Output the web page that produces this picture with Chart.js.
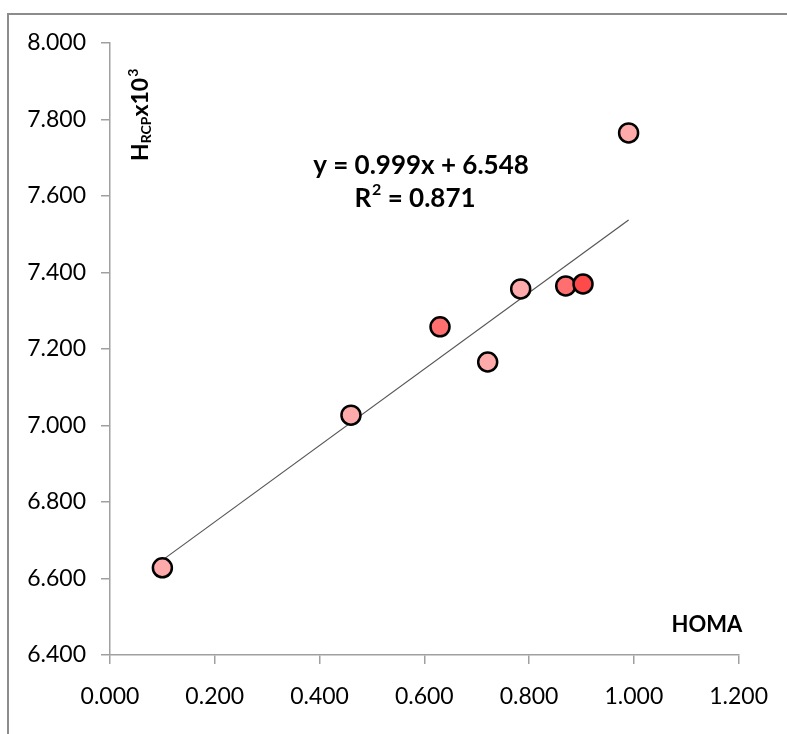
<!DOCTYPE html>
<html>
<head>
<meta charset="utf-8">
<script src="https://cdn.jsdelivr.net/npm/chart.js@4"></script>
<style>
  html, body { margin: 0; padding: 0; background: #fff; }
  #wrap { width: 787px; height: 734px; position: relative; }
</style>
</head>
<body>
<div id="wrap"><canvas id="c"></canvas></div>
<script>
// ---- data ----
const homaX = [0.100, 0.460, 0.630, 0.721, 0.784, 0.870, 0.903, 0.990];
const hrcpY = [6.628, 7.027, 7.258, 7.166, 7.357, 7.365, 7.370, 7.765];
const pointColors = ['#FFAAAA', '#FFAAAA', '#FF6F6F', '#FFAAAA', '#FFAAAA', '#FF6F6F', '#FF4A4A', '#FFAAAA'];
const trendX = [0.100, 0.990];
const trendY = [6.648, 7.537];
const xTicks = [0.0, 0.2, 0.4, 0.6, 0.8, 1.0, 1.2];
const yTicks = [6.4, 6.6, 6.8, 7.0, 7.2, 7.4, 7.6, 7.8, 8.0];
const eqLine1 = 'y = 0.999x + 6.548';
const eqLine2Base = 'R';
const eqLine2Sup = '2';
const eqLine2Rest = ' = 0.871';
const xTitle = 'HOMA';

const FONT = 'Lato, "Open Sans", sans-serif';

const framePlugin = {
  id: 'frame',
  beforeDraw(chart) {
    const c = chart.ctx;
    c.save();
    c.fillStyle = '#ffffff';
    c.fillRect(0, 0, chart.width, chart.height);
    c.strokeStyle = '#8c8c8c';
    c.lineWidth = 2;
    c.beginPath();
    c.moveTo(8, chart.height);
    c.lineTo(8, 14);
    c.lineTo(chart.width, 14);
    c.stroke();
    c.restore();
  }
};

const textPlugin = {
  id: 'texts',
  afterDraw(chart) {
    const c = chart.ctx;
    c.save();
    c.fillStyle = '#000';
    // equation
    c.textAlign = 'center';
    c.textBaseline = 'alphabetic';
    c.font = 'bold 26px ' + FONT;
    c.fillText(eqLine1, 421, 174);
    // R^2 line
    c.font = 'bold 26px ' + FONT;
    const wR = c.measureText(eqLine2Base).width;
    const wRest = c.measureText(eqLine2Rest).width;
    c.font = 'bold 16px ' + FONT;
    const wS = c.measureText(eqLine2Sup).width;
    const total = wR + wS + 1 + wRest;
    let x0 = 415 - total / 2;
    c.textAlign = 'left';
    c.font = 'bold 26px ' + FONT;
    c.fillText(eqLine2Base, x0, 207);
    c.font = 'bold 16px ' + FONT;
    c.fillText(eqLine2Sup, x0 + wR + 1, 195);
    c.font = 'bold 26px ' + FONT;
    c.fillText(eqLine2Rest, x0 + wR + wS + 1, 207);
    // x title
    c.textAlign = 'center';
    c.font = 'bold 22px ' + FONT;
    c.fillText(xTitle, 707, 632);
    // y title rotated
    c.translate(148, 161);
    c.rotate(-Math.PI / 2);
    c.textAlign = 'left';
    let px = 0;
    c.font = 'bold 23px ' + FONT;
    c.fillText('H', px, 0); px += c.measureText('H').width;
    c.font = 'bold 14px ' + FONT;
    c.fillText('RCP', px, 3); px += c.measureText('RCP').width;
    c.font = 'bold 23px ' + FONT;
    c.fillText('x10', px, 0); px += c.measureText('x10').width + 1;
    c.font = 'bold 14px ' + FONT;
    c.fillText('3', px, -10);
    c.restore();
  }
};

const scatterData = homaX.map((x, i) => ({ x: x, y: hrcpY[i] }));
const trendData = trendX.map((x, i) => ({ x: x, y: trendY[i] }));

new Chart(document.getElementById('c'), {
  type: 'scatter',
  data: {
    datasets: [
      {
        type: 'line',
        data: trendData,
        borderColor: '#555555',
        borderWidth: 1.2,
        pointRadius: 0,
        fill: false,
        order: 2
      },
      {
        data: scatterData,
        backgroundColor: pointColors,
        borderColor: '#000000',
        borderWidth: 2.5,
        pointRadius: 9.5,
        pointHoverRadius: 9.5,
        order: 1
      }
    ]
  },
  options: {
    responsive: true,
    maintainAspectRatio: false,
    animation: false,
    events: [],
    layout: { padding: { left: 0, right: 48, top: 43, bottom: 0 } },
    plugins: { legend: { display: false }, tooltip: { enabled: false } },
    scales: {
      x: {
        type: 'linear',
        min: 0, max: 1.2,
        afterBuildTicks(s) { s.ticks = xTicks.map(v => ({ value: v })); },
        afterFit(s) { s.height = 79; },
        grid: { display: true, drawOnChartArea: false, drawTicks: true, tickLength: 9, color: '#a0a0a0', lineWidth: 1.5 },
        border: { display: true, color: '#a0a0a0', width: 1.5 },
        ticks: {
          color: '#000',
          font: { family: FONT, size: 23 },
          padding: 19,
          maxRotation: 0,
          callback: v => Number(v).toFixed(3)
        }
      },
      y: {
        type: 'linear',
        min: 6.4, max: 8.0,
        afterBuildTicks(s) { s.ticks = yTicks.map(v => ({ value: v })); },
        afterFit(s) { s.width = 110; },
        grid: { display: true, drawOnChartArea: false, drawTicks: true, tickLength: 9, color: '#a0a0a0', lineWidth: 1.5 },
        border: { display: true, color: '#a0a0a0', width: 1.5 },
        ticks: {
          color: '#000',
          font: { family: FONT, size: 23 },
          padding: 15,
          callback: v => Number(v).toFixed(3)
        }
      }
    }
  },
  plugins: [framePlugin, textPlugin]
});
</script>
</body>
</html>
